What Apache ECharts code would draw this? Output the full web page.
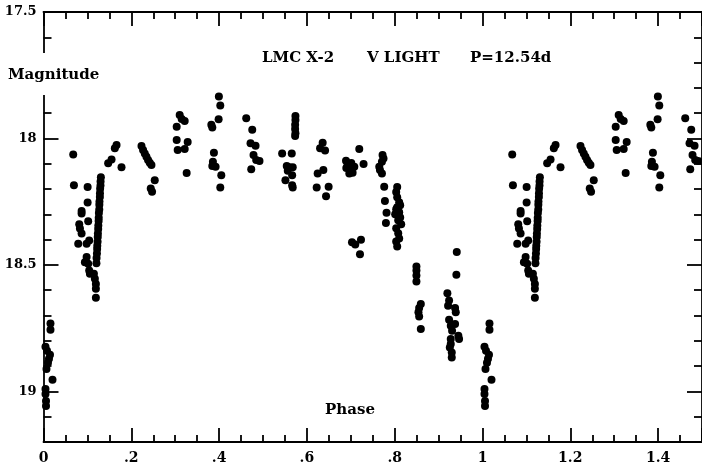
<!DOCTYPE html>
<html><head><meta charset="utf-8">
<script src="https://cdn.jsdelivr.net/npm/echarts@6/dist/echarts.min.js"></script>
<style>html,body{margin:0;padding:0;background:#fff}#c{width:702px;height:471px}</style>
</head><body><div id="c"></div>
<script>
// Observations [phase, V magnitude], phase 0..1 (the plot repeats phase < 0.5 at +1)
const obsPhase0 = [[0.0159,18.732],[0.0159,18.756],[0.0045,18.823],[0.008,18.839],[0.0148,18.855],[0.0125,18.871],[0.0102,18.887],[0.0068,18.911],[0.0205,18.954],[0.0045,18.990],[0.0045,19.010],[0.0057,19.038],[0.0057,19.058]];
const obsPhase007 = [[0.0677,18.063],[0.0693,18.185]];
const obsRiseScatter = [[0.1005,18.192],[0.1005,18.253],[0.0868,18.287],[0.0868,18.297],[0.1018,18.327],[0.0814,18.339],[0.083,18.356],[0.0868,18.376],[0.0791,18.416],[0.0982,18.416],[0.1041,18.403],[0.0982,18.469],[0.0943,18.489],[0.1018,18.495],[0.1041,18.522],[0.1057,18.535],[0.1148,18.535],[0.117,18.555],[0.1193,18.575],[0.1193,18.594],[0.1193,18.630]];
const obsRiseColumn = [[0.1307,18.153],[0.1300,18.170],[0.1298,18.186],[0.1290,18.199],[0.1286,18.217],[0.1284,18.231],[0.1275,18.249],[0.1272,18.262],[0.1270,18.281],[0.1262,18.295],[0.1258,18.313],[0.1256,18.326],[0.1249,18.344],[0.1246,18.358],[0.1239,18.376],[0.1236,18.390],[0.1232,18.408],[0.1225,18.424],[0.1222,18.437],[0.1217,18.455],[0.1209,18.473],[0.1206,18.493]];
const obsPhase016 = [[0.1473,18.098],[0.155,18.083],[0.1625,18.039],[0.1664,18.026],[0.1777,18.114]];
const obsPhase023 = [[0.2232,18.030],[0.2268,18.046],[0.2307,18.059],[0.2345,18.072],[0.2382,18.085],[0.242,18.096],[0.2459,18.105],[0.2534,18.165],[0.2443,18.198],[0.2473,18.211]];
const obsPhase031 = [[0.3102,17.907],[0.3148,17.923],[0.3216,17.931],[0.3034,17.954],[0.3034,18.006],[0.3057,18.046],[0.3284,18.014],[0.3216,18.042],[0.3261,18.137]];
const obsPhase039 = [[0.3995,17.834],[0.4027,17.870],[0.3989,17.924],[0.3823,17.946],[0.3845,17.957],[0.3882,18.056],[0.3859,18.092],[0.3845,18.109],[0.392,18.112],[0.405,18.145],[0.4027,18.194]];
const obsPhase047 = [[0.4618,17.920],[0.4755,17.966],[0.4716,18.019],[0.483,18.029],[0.4784,18.065],[0.4845,18.085],[0.492,18.089],[0.4732,18.122]];
const obsPhase056 = [[0.5739,17.911],[0.5739,17.927],[0.5732,17.946],[0.5732,17.963],[0.5739,17.979],[0.5732,17.990],[0.5436,18.059],[0.5655,18.059],[0.5541,18.109],[0.5602,18.114],[0.5677,18.114],[0.5564,18.128],[0.5664,18.145],[0.5511,18.165],[0.5664,18.185],[0.5677,18.194]];
const obsPhase063 = [[0.6359,18.017],[0.630,18.039],[0.6414,18.048],[0.6375,18.125],[0.6245,18.138],[0.6223,18.194],[0.6495,18.191],[0.6436,18.228]];
const obsPhase070 = [[0.7193,18.042],[0.6891,18.088],[0.6927,18.105],[0.7005,18.125],[0.708,18.112],[0.6966,18.138],[0.7041,18.136],[0.7291,18.101],[0.6898,18.117],[0.7011,18.097],[0.7027,18.410],[0.7102,18.419],[0.7232,18.400],[0.7209,18.458]];
const obsPhase077 = [[0.7723,18.065],[0.7709,18.092],[0.7648,18.112],[0.7664,18.125],[0.7745,18.079],[0.7709,18.138],[0.7761,18.191],[0.7777,18.247],[0.7814,18.294],[0.78,18.334]];
const obsPhase081 = [[0.8057,18.192],[0.8034,18.212],[0.8057,18.232],[0.8102,18.252],[0.8057,18.272],[0.8034,18.280],[0.8102,18.292],[0.8125,18.312],[0.8148,18.339],[0.8034,18.355],[0.808,18.375],[0.8057,18.427],[0.8125,18.264],[0.8011,18.300],[0.808,18.323],[0.8102,18.395],[0.8034,18.407]];
const obsPhase085 = [[0.8495,18.506],[0.8495,18.522],[0.8495,18.542],[0.8495,18.565],[0.8595,18.654],[0.8557,18.670],[0.8541,18.687],[0.8557,18.704],[0.8595,18.753]];
const obsPhase093 = [[0.9414,18.449],[0.9405,18.539],[0.92,18.612],[0.9239,18.641],[0.9375,18.670],[0.9391,18.687],[0.9239,18.717],[0.9277,18.740],[0.9375,18.733],[0.945,18.780],[0.9466,18.793],[0.9277,18.793],[0.9277,18.813],[0.9255,18.826],[0.93,18.846],[0.93,18.866],[0.9307,18.760],[0.9216,18.661]];

const xTickLabels = ['0','.2','.4','.6','.8','1','1.2','1.4'];
const yTickLabels = ['17.5','18','18.5','19'];
const titleParts = ['LMC X-2','V LIGHT','P=12.54d'];
const xName = 'Phase', yName = 'Magnitude';

const obs = [].concat(obsPhase0, obsPhase007, obsRiseScatter, obsRiseColumn, obsPhase016, obsPhase023, obsPhase031, obsPhase039, obsPhase047, obsPhase056, obsPhase063, obsPhase070, obsPhase077, obsPhase081, obsPhase085, obsPhase093);
const plotted = obs.concat(obs.filter(p => p[0] < 0.5).map(p => [p[0] + 1, p[1]]));

const FONT = 'DejaVu Serif';
const ls = () => ({color: '#000', width: 1.8});
function xAxisCfg(pos, showLabel) {
  return {type: 'value', position: pos, min: 0, max: 1.5, interval: 0.2,
    axisLine: {show: true, onZero: false, lineStyle: ls()},
    axisTick: {show: true, inside: true, length: 14, lineStyle: ls()},
    minorTick: {show: true, splitNumber: 4, length: 7, lineStyle: ls()},
    splitLine: {show: false}, minorSplitLine: {show: false},
    axisLabel: {show: showLabel, showMaxLabel: false, margin: 9, color: '#000', fontFamily: FONT, fontWeight: 'bold', fontSize: 14,
      formatter: v => { const i = Math.round(v / 0.2); return xTickLabels[i] || ''; }}};
}
function yAxisCfg(pos, showLabel) {
  return {type: 'value', position: pos, inverse: true, min: 17.5, max: 19.2, interval: 0.5,
    axisLine: {show: true, onZero: false, lineStyle: ls()},
    axisTick: {show: true, inside: true, length: 15, lineStyle: ls()},
    minorTick: {show: true, splitNumber: 5, length: 8, lineStyle: ls()},
    splitLine: {show: false}, minorSplitLine: {show: false},
    axisLabel: {show: showLabel, showMaxLabel: false, margin: 7, color: '#000', fontFamily: FONT, fontWeight: 'bold', fontSize: 13,
      formatter: v => { const i = Math.round((v - 17.5) / 0.5); return yTickLabels[i] || ''; }}};
}
const chart = echarts.init(document.getElementById('c'), null, {renderer: 'canvas'});
const txt = (t, x, y, align) => ({type: 'text', x, y, z: 100,
  style: {text: t, fill: '#000', font: 'bold 15px "' + FONT + '"', textAlign: align || 'left', textVerticalAlign: 'middle'}});
chart.setOption({
  animation: false,
  backgroundColor: '#fff',
  grid: {left: 43.5, top: 12, right: -2, bottom: 29, containLabel: false},
  xAxis: [xAxisCfg('bottom', true), xAxisCfg('top', false)],
  yAxis: [yAxisCfg('left', true), yAxisCfg('right', false)],
  series: [{type: 'scatter', xAxisIndex: 0, yAxisIndex: 0, data: plotted, symbol: 'circle', symbolSize: 8,
    itemStyle: {color: '#000', opacity: 1}, clip: false}],
  graphic: [
    {type: 'rect', z: 99, shape: {x: 36, y: 53, width: 22, height: 42}, style: {fill: '#fff'}},
    txt(yName, 8, 75),
    txt(titleParts[0], 262, 58),
    txt(titleParts[1], 367, 58),
    txt(titleParts[2], 470, 58),
    txt(xName, 350, 410, 'center')
  ]
});
</script></body></html>
